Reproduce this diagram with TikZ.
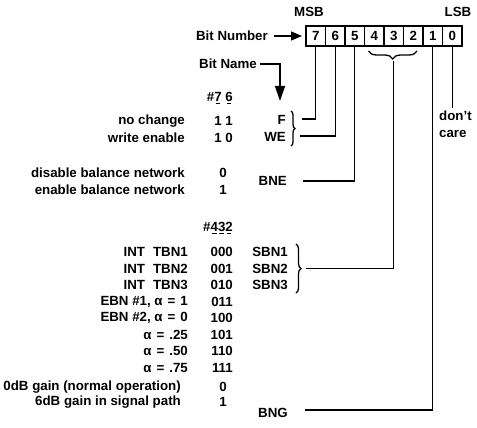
\documentclass[tikz,border=0pt]{standalone}
\usepackage{fontspec}
\setmainfont{Liberation Sans}
\usepackage{tikz}
\usetikzlibrary{arrows.meta,positioning,decorations.pathreplacing,calc}
\tikzset{
  celula/.style={rectangle,draw,line width=1.3pt,minimum width=19.5pt,minimum height=20pt,inner sep=0pt,outer sep=0pt},
  fio/.style={line width=1.3pt},
  flecha/.style={fio,-{Triangle[length=11pt,width=9pt]}},
  rotulo/.style={inner sep=0pt,anchor=east},
  valor/.style={inner sep=0pt},
  chave/.style={fio,decorate,decoration={brace,amplitude=#1}},
  chave/.default=5pt,
}
\newcommand{\traco}[1]{\setbox0\hbox{#1}\rlap{\hbox to\wd0{\hfil\rule[-3pt]{0.6\wd0}{1.2pt}\hfil}}\box0\relax}
\newcommand{\igual}{\hspace{5pt}=\hspace{5pt}}

\begin{document}
\begin{tikzpicture}[x=1pt,y=-1pt,font=\fontsize{13.3}{17}\selectfont\bfseries]
\useasboundingbox (0,0) rectangle (477,428);
% registrador
\foreach \b in {7,...,0}
  \node[celula] (b\b) at ({306+19.5*(7-\b)+9.75},36) {\b};
\node[valor] (msb) at (309,12) {MSB};
\node[valor] (lsb) at (458,12) {LSB};
\node[rotulo] (numero) at (268,36) {Bit Number};
\draw[flecha,shorten <=6pt,shorten >=4pt] (numero) -- (b7);
\node[rotulo] (nome) at (257,64) {Bit Name};
\coordinate (alvo) at (280,101);
\draw[fio,-{Triangle[length=15pt,width=10pt]}] ([xshift=3pt]nome.east) -| (alvo);
% bits 7 e 6
\node[rotulo] (h76) at (233,98) {\#\traco{7} \traco{6}};
\node[rotulo] (nc) at (185,121) {no change};
\node[rotulo] (we) at (185,138) {write enable};
\node[rotulo] (v11) at (233,121) {1 1};
\node[rotulo] (v10) at (233,138) {1 0};
\node[rotulo] (F) at (286,120) {F};
\node[rotulo] (WE) at (286,137) {WE};
\draw[chave=4pt] (291,111) -- (291,146);
\coordinate (fF) at (302,119);
\coordinate (fWE) at (300,136);
\draw[fio] (b7.south) |- (fF);
\draw[fio] (b6.south) |- (fWE);
% bit 5
\node[rotulo] (dbn) at (185,173) {disable balance network};
\node[rotulo] (ebn) at (185,190) {enable balance network};
\node[valor] (v5a) at (223,173) {0};
\node[valor] (v5b) at (223,190) {1};
\node[rotulo] (BNE) at (287,181) {BNE};
\coordinate (fBNE) at (303,181);
\draw[fio] (b5.south) |- (fBNE);
% bits 4 3 2
\node[rotulo] (h432) at (233,228) {\#\traco{4}\traco{3}\traco{2}};
\foreach \t/\c/\y in {INT\hspace{8pt}TBN1/000/252,INT\hspace{8pt}TBN2/001/268.5,INT\hspace{8pt}TBN3/010/285,
    EBN \#1{,} α\igual1/011/301.5,EBN \#2{,} α\igual0/100/318,α\igual.25/101/334.5,
    α\igual.50/110/351,α\igual.75/111/367.5}{
  \node[rotulo] at (188,\y) {\t};
  \node[rotulo] at (233,\y) {\c};
}
\node[rotulo] (sbn1) at (288,252) {SBN1};
\node[rotulo] (sbn2) at (288,268.5) {SBN2};
\node[rotulo] (sbn3) at (288,285) {SBN3};
\draw[chave=5pt] (296,244) -- (296,293);
\coordinate (fSBN) at (306,268.5);
\draw[chave=8pt] ([xshift=-6pt,yshift=-5pt]b2.south east) -- ([xshift=4pt,yshift=-5pt]b4.south west);
\coordinate (ponta) at ([yshift=-15pt]b3.south);
\draw[fio] (ponta) |- (fSBN);
% bit 1
\node[rotulo] (g0) at (181,387) {0dB gain (normal operation)};
\node[rotulo] (g6) at (181,402) {6dB gain in signal path};
\node[valor] (v1a) at (223,387) {0};
\node[valor] (v1b) at (223,402) {1};
\node[rotulo] (BNG) at (288,413) {BNG};
\coordinate (fBNG) at (305,410);
\draw[fio] (b1.south) |- (fBNG);
% bit 0
\node[valor,anchor=north west,align=left] (dc) at (439,111) {don't\\care};
\coordinate (fDC) at ([yshift=-62pt]b0.south);
\draw[fio] (b0.south) -- (fDC);
\end{tikzpicture}
\end{document}
